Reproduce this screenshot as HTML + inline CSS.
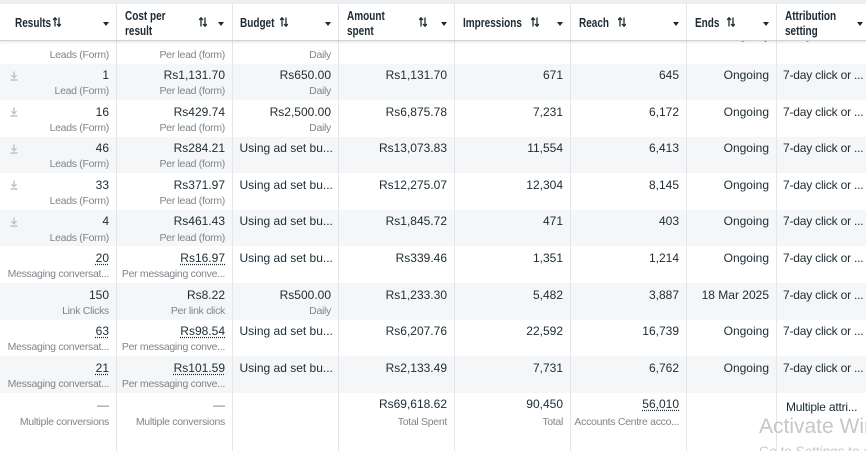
<!DOCTYPE html>
<html><head><meta charset="utf-8">
<style>
*{margin:0;padding:0;box-sizing:border-box}
html,body{width:866px;height:451px;overflow:hidden;background:#fff}
body{position:relative;font-family:"Liberation Sans",Arial,sans-serif;color:#1c2b33}
.top{position:absolute;left:0;top:0;width:866px;height:4px;background:#eceef1;z-index:5}
.hdr{position:absolute;left:0;top:4px;width:866px;height:37px;background:#fff;border-bottom:1px solid #cfd3d8;box-shadow:0 1px 3px rgba(0,0,0,.12);z-index:3;overflow:hidden}
.hl{position:absolute;top:0;width:1px;height:37px;background:#e3e5e8}
.lab{position:absolute;font-size:12.5px;font-weight:bold;line-height:15px;white-space:nowrap;transform:scaleX(.8);transform-origin:left top;color:#1c2b33}
.arr{position:absolute;top:13px;width:8px;height:10px}
.tri{position:absolute;top:18px;width:0;height:0;border-left:3.5px solid transparent;border-right:3.5px solid transparent;border-top:4px solid #1c2b33}
.vl{position:absolute;top:4px;width:1px;height:447px;background:#e4e6e9;z-index:1}
.r{position:absolute;left:0;width:866px;height:36.6px;overflow:hidden}
.g{background:#f5f6f7}
.m{position:absolute;top:4.6px;font-size:12px;line-height:14px;color:#1c2b33;white-space:nowrap}
.s{position:absolute;top:21.8px;font-size:10.5px;line-height:13px;color:#7f858b;white-space:nowrap;letter-spacing:-0.3px}
.a1{right:757px}.a2{right:641px}.a3{right:535px}.a4{right:419px}.a5{right:303px}.a6{right:187px}.a7{right:97px}
.l3{left:239.5px}
.l8{left:783px;width:83px;overflow:hidden;letter-spacing:-0.2px}
.u{text-decoration:underline dotted #1c2b33;text-underline-offset:2px}
.ic{position:absolute;left:10px;top:7px;width:8px;height:10px}
.wmc{position:absolute;left:759px;top:410px;width:107px;height:41px;overflow:hidden;z-index:6}
.wm1{position:absolute;left:0;top:5.5px;font-size:21px;line-height:21px;color:#c6c6c6;white-space:nowrap}
.wm2{position:absolute;left:0;top:34.6px;font-size:13.5px;line-height:13.5px;color:#c9c9c9;white-space:nowrap}
</style></head><body>

<div class="top"></div>

<!-- rows -->
<div class="r" style="top:26.9px">
  <div class="m a1" style="top:1.5px">12</div><div class="s a1">Leads (Form)</div>
  <div class="m a2" style="top:1.5px">Rs236.11</div><div class="s a2">Per lead (form)</div>
  <div class="m a3" style="top:1.5px">Rs1,000.00</div><div class="s a3">Daily</div>
  <div class="m a4" style="top:1.5px">Rs2,833.24</div>
  <div class="m a5" style="top:1.5px">3,021</div>
  <div class="m a6" style="top:1.5px">2,590</div>
  <div class="m a7" style="top:1.5px">Ongoing</div>
  <div class="m l8" style="top:1.5px">7-day click or ...</div>
</div>

<div class="r g" style="top:63.5px">
  <svg class="ic" viewBox="0 0 8 10"><path d="M4 0.5V6.5M1.5 4.2L4 6.8L6.5 4.2M0.5 9H7.5" stroke="#bfc3c8" stroke-width="1.4" fill="none"/></svg>
  <div class="m a1">1</div><div class="s a1">Lead (Form)</div>
  <div class="m a2">Rs1,131.70</div><div class="s a2">Per lead (form)</div>
  <div class="m a3">Rs650.00</div><div class="s a3">Daily</div>
  <div class="m a4">Rs1,131.70</div>
  <div class="m a5">671</div>
  <div class="m a6">645</div>
  <div class="m a7">Ongoing</div>
  <div class="m l8">7-day click or ...</div>
</div>

<div class="r" style="top:100.1px">
  <svg class="ic" viewBox="0 0 8 10"><path d="M4 0.5V6.5M1.5 4.2L4 6.8L6.5 4.2M0.5 9H7.5" stroke="#bfc3c8" stroke-width="1.4" fill="none"/></svg>
  <div class="m a1">16</div><div class="s a1">Leads (Form)</div>
  <div class="m a2">Rs429.74</div><div class="s a2">Per lead (form)</div>
  <div class="m a3">Rs2,500.00</div><div class="s a3">Daily</div>
  <div class="m a4">Rs6,875.78</div>
  <div class="m a5">7,231</div>
  <div class="m a6">6,172</div>
  <div class="m a7">Ongoing</div>
  <div class="m l8">7-day click or ...</div>
</div>

<div class="r g" style="top:136.7px">
  <svg class="ic" viewBox="0 0 8 10"><path d="M4 0.5V6.5M1.5 4.2L4 6.8L6.5 4.2M0.5 9H7.5" stroke="#bfc3c8" stroke-width="1.4" fill="none"/></svg>
  <div class="m a1">46</div><div class="s a1">Leads (Form)</div>
  <div class="m a2">Rs284.21</div><div class="s a2">Per lead (form)</div>
  <div class="m l3">Using ad set bu...</div>
  <div class="m a4">Rs13,073.83</div>
  <div class="m a5">11,554</div>
  <div class="m a6">6,413</div>
  <div class="m a7">Ongoing</div>
  <div class="m l8">7-day click or ...</div>
</div>

<div class="r" style="top:173.3px">
  <svg class="ic" viewBox="0 0 8 10"><path d="M4 0.5V6.5M1.5 4.2L4 6.8L6.5 4.2M0.5 9H7.5" stroke="#bfc3c8" stroke-width="1.4" fill="none"/></svg>
  <div class="m a1">33</div><div class="s a1">Leads (Form)</div>
  <div class="m a2">Rs371.97</div><div class="s a2">Per lead (form)</div>
  <div class="m l3">Using ad set bu...</div>
  <div class="m a4">Rs12,275.07</div>
  <div class="m a5">12,304</div>
  <div class="m a6">8,145</div>
  <div class="m a7">Ongoing</div>
  <div class="m l8">7-day click or ...</div>
</div>

<div class="r g" style="top:209.9px">
  <svg class="ic" viewBox="0 0 8 10"><path d="M4 0.5V6.5M1.5 4.2L4 6.8L6.5 4.2M0.5 9H7.5" stroke="#bfc3c8" stroke-width="1.4" fill="none"/></svg>
  <div class="m a1">4</div><div class="s a1">Leads (Form)</div>
  <div class="m a2">Rs461.43</div><div class="s a2">Per lead (form)</div>
  <div class="m l3">Using ad set bu...</div>
  <div class="m a4">Rs1,845.72</div>
  <div class="m a5">471</div>
  <div class="m a6">403</div>
  <div class="m a7">Ongoing</div>
  <div class="m l8">7-day click or ...</div>
</div>

<div class="r" style="top:246.5px">
  <div class="m a1 u">20</div><div class="s a1">Messaging conversat...</div>
  <div class="m a2 u">Rs16.97</div><div class="s a2">Per messaging conve...</div>
  <div class="m l3">Using ad set bu...</div>
  <div class="m a4">Rs339.46</div>
  <div class="m a5">1,351</div>
  <div class="m a6">1,214</div>
  <div class="m a7">Ongoing</div>
  <div class="m l8">7-day click or ...</div>
</div>

<div class="r g" style="top:283.1px">
  <div class="m a1">150</div><div class="s a1">Link Clicks</div>
  <div class="m a2">Rs8.22</div><div class="s a2">Per link click</div>
  <div class="m a3">Rs500.00</div><div class="s a3">Daily</div>
  <div class="m a4">Rs1,233.30</div>
  <div class="m a5">5,482</div>
  <div class="m a6">3,887</div>
  <div class="m a7">18 Mar 2025</div>
  <div class="m l8">7-day click or ...</div>
</div>

<div class="r" style="top:319.7px">
  <div class="m a1 u">63</div><div class="s a1">Messaging conversat...</div>
  <div class="m a2 u">Rs98.54</div><div class="s a2">Per messaging conve...</div>
  <div class="m l3">Using ad set bu...</div>
  <div class="m a4">Rs6,207.76</div>
  <div class="m a5">22,592</div>
  <div class="m a6">16,739</div>
  <div class="m a7">Ongoing</div>
  <div class="m l8">7-day click or ...</div>
</div>

<div class="r g" style="top:356.3px">
  <div class="m a1 u">21</div><div class="s a1">Messaging conversat...</div>
  <div class="m a2 u">Rs101.59</div><div class="s a2">Per messaging conve...</div>
  <div class="m l3">Using ad set bu...</div>
  <div class="m a4">Rs2,133.49</div>
  <div class="m a5">7,731</div>
  <div class="m a6">6,762</div>
  <div class="m a7">Ongoing</div>
  <div class="m l8">7-day click or ...</div>
</div>

<div class="r" style="top:392.9px;height:58.1px">
  <div class="m a1" style="top:5.5px;color:#6b7178">—</div><div class="s a1" style="top:23.5px">Multiple conversions</div>
  <div class="m a2" style="top:5.5px;color:#6b7178">—</div><div class="s a2" style="top:23.5px">Multiple conversions</div>
  <div class="m a4" style="top:4.5px">Rs69,618.62</div><div class="s a4" style="top:23.5px">Total Spent</div>
  <div class="m a5" style="top:4.5px">90,450</div><div class="s a5" style="top:23.5px">Total</div>
  <div class="m a6 u" style="top:4.5px">56,010</div><div class="s a6" style="top:23.5px">Accounts Centre acco...</div>
  <div class="m" style="top:7.5px;left:786px;letter-spacing:-0.2px">Multiple attri...</div>
</div>

<!-- vertical lines -->
<div class="vl" style="left:116px"></div>
<div class="vl" style="left:232px"></div>
<div class="vl" style="left:338px"></div>
<div class="vl" style="left:454px"></div>
<div class="vl" style="left:570px"></div>
<div class="vl" style="left:686px"></div>
<div class="vl" style="left:776px"></div>

<!-- header -->
<div class="hdr">
  <div class="hl" style="left:116px"></div>
  <div class="hl" style="left:232px"></div>
  <div class="hl" style="left:338px"></div>
  <div class="hl" style="left:454px"></div>
  <div class="hl" style="left:570px"></div>
  <div class="hl" style="left:686px"></div>
  <div class="hl" style="left:776px"></div>

  <div class="lab" style="left:15px;top:11.7px">Results</div>
  <div class="lab" style="left:125px;top:5.4px">Cost per<br>result</div>
  <div class="lab" style="left:240px;top:11.7px">Budget</div>
  <div class="lab" style="left:347px;top:5.4px">Amount<br>spent</div>
  <div class="lab" style="left:463px;top:11.7px">Impressions</div>
  <div class="lab" style="left:579px;top:11.7px">Reach</div>
  <div class="lab" style="left:695px;top:11.7px">Ends</div>
  <div class="lab" style="left:785px;top:5.4px">Attribution<br>setting</div>

  <svg class="arr" style="left:53px" viewBox="0 0 8 10"><path d="M2 9.5V1M0 3L2 0.8L4 3M6 0.5V9M4 7L6 9.2L8 7" stroke="#1c2b33" stroke-width="1.3" fill="none"/></svg>
  <svg class="arr" style="left:199px" viewBox="0 0 8 10"><path d="M2 9.5V1M0 3L2 0.8L4 3M6 0.5V9M4 7L6 9.2L8 7" stroke="#1c2b33" stroke-width="1.3" fill="none"/></svg>
  <svg class="arr" style="left:280px" viewBox="0 0 8 10"><path d="M2 9.5V1M0 3L2 0.8L4 3M6 0.5V9M4 7L6 9.2L8 7" stroke="#1c2b33" stroke-width="1.3" fill="none"/></svg>
  <svg class="arr" style="left:419px" viewBox="0 0 8 10"><path d="M2 9.5V1M0 3L2 0.8L4 3M6 0.5V9M4 7L6 9.2L8 7" stroke="#1c2b33" stroke-width="1.3" fill="none"/></svg>
  <svg class="arr" style="left:531px" viewBox="0 0 8 10"><path d="M2 9.5V1M0 3L2 0.8L4 3M6 0.5V9M4 7L6 9.2L8 7" stroke="#1c2b33" stroke-width="1.3" fill="none"/></svg>
  <svg class="arr" style="left:618px" viewBox="0 0 8 10"><path d="M2 9.5V1M0 3L2 0.8L4 3M6 0.5V9M4 7L6 9.2L8 7" stroke="#1c2b33" stroke-width="1.3" fill="none"/></svg>
  <svg class="arr" style="left:727px" viewBox="0 0 8 10"><path d="M2 9.5V1M0 3L2 0.8L4 3M6 0.5V9M4 7L6 9.2L8 7" stroke="#1c2b33" stroke-width="1.3" fill="none"/></svg>

  <div class="tri" style="left:103px"></div>
  <div class="tri" style="left:218px"></div>
  <div class="tri" style="left:325px"></div>
  <div class="tri" style="left:441px"></div>
  <div class="tri" style="left:557px"></div>
  <div class="tri" style="left:673px"></div>
  <div class="tri" style="left:763px"></div>
  <div class="tri" style="left:857px"></div>
</div>

<div class="wmc">
  <div class="wm1">Activate Windows</div>
  <div class="wm2">Go to Settings to activate Windows.</div>
</div>

</body></html>
